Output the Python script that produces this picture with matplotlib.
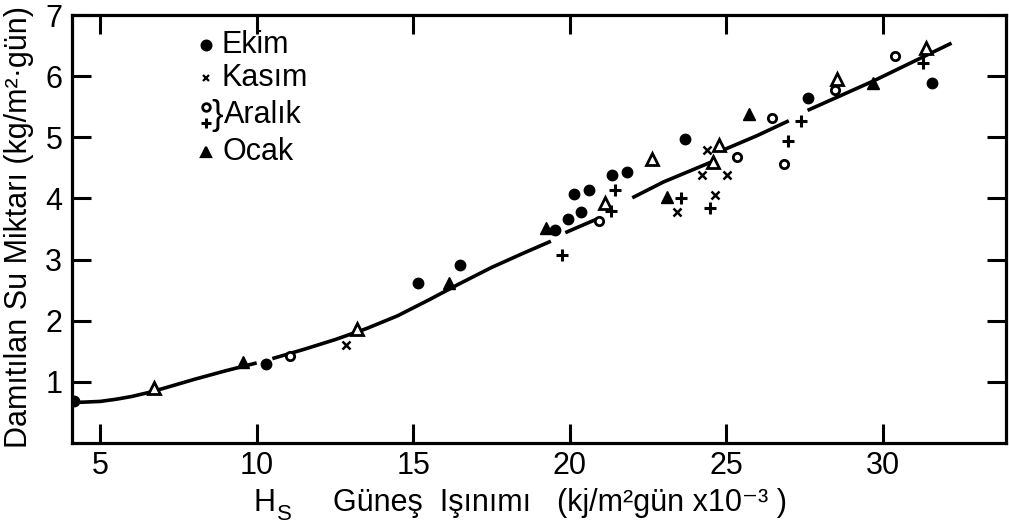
import numpy as np
import matplotlib.pyplot as plt

plt.rcParams['font.family'] = ['Liberation Sans', 'DejaVu Sans']

# Ekim (dolu daire)
ekim_x = [4.15, 10.3, 15.16, 16.5, 19.54, 19.95, 20.37, 20.15, 20.62, 21.36, 21.84, 23.7, 27.6, 31.58]
ekim_y = [0.68, 1.30, 2.61, 2.91, 3.49, 3.67, 3.77, 4.08, 4.14, 4.39, 4.44, 4.97, 5.65, 5.88]

# Kasim (x)
kasim_x = [12.86, 23.43, 24.39, 24.24, 25.03, 24.65]
kasim_y = [1.61, 3.78, 4.79, 4.38, 4.38, 4.05]

# Aralik (bos daire ve arti)
aralik_o_x = [11.07, 20.94, 25.35, 26.47, 26.85, 28.48, 30.4]
aralik_o_y = [1.43, 3.63, 4.67, 5.31, 4.57, 5.78, 6.33]
aralik_p_x = [19.76, 21.33, 21.45, 23.56, 24.49, 26.98, 27.4, 31.3]
aralik_p_y = [3.08, 3.80, 4.14, 4.00, 3.85, 4.94, 5.27, 6.21]

# Ocak (ucgen, dolu ve bos)
ocak_dolu_x = [9.57, 16.15, 19.25, 23.1, 25.73, 29.7]
ocak_dolu_y = [1.33, 2.61, 3.52, 4.03, 5.38, 5.88]
ocak_bos_x = [6.73, 13.2, 21.14, 22.63, 24.77, 24.58, 28.55, 31.39]
ocak_bos_y = [0.90, 1.86, 3.93, 4.65, 4.87, 4.59, 5.96, 6.46]

# cizilmis egri (nan = kesik yer)
egri_x = [4.1, 5, 5.5, 6, 6.5, 7, 8, 9, 10.0, np.nan,
          10.5, 11.5, 12.5, 13.5, 14.5, 15.5, 16.5, 17.5, 18.5, 19.4, np.nan,
          19.86, 20.9, np.nan,
          22.0, 23.0, 24.5, np.nan,
          24.9, 26.0, 27.0, np.nan,
          27.6, 29.7, 32.2]
egri_y = [0.66, 0.68, 0.715, 0.76, 0.82, 0.89, 1.04, 1.18, 1.31, np.nan,
          1.38, 1.53, 1.69, 1.87, 2.08, 2.34, 2.61, 2.87, 3.10, 3.30, np.nan,
          3.44, 3.67, np.nan,
          4.01, 4.27, 4.59, np.nan,
          4.79, 5.03, 5.27, np.nan,
          5.44, 5.92, 6.54]

xticks = [5, 10, 15, 20, 25, 30]
yticks = [1, 2, 3, 4, 5, 6, 7]

W, H = 1009, 526
fig = plt.figure(figsize=(W / 100, H / 100), dpi=100)
ax = fig.add_axes([72 / W, 1 - 443 / H, (1006 - 72) / W, (443 - 15) / H])

ax.plot(egri_x, egri_y, color='black', lw=2.6, solid_capstyle='butt',
        solid_joinstyle='round')

ax.plot(ekim_x, ekim_y, 'o', color='black', ms=7.5, ls='none')
ax.plot(kasim_x, kasim_y, 'x', color='black', ms=6, mew=1.8, ls='none')
ax.plot(aralik_o_x, aralik_o_y, 'o', mfc='white', mec='black', ms=6, mew=2, ls='none')
ax.plot(aralik_p_x, aralik_p_y, '+', color='black', ms=8, mew=2.2, ls='none')
ax.plot(ocak_dolu_x, ocak_dolu_y, '^', color='black', ms=8, ls='none')
ax.plot(ocak_bos_x, ocak_bos_y, '^', mfc='white', mec='black', ms=8, mew=2, ls='none')

ax.set_xlim(4.1, 33.94)
ax.set_ylim(0, 7)
ax.set_xticks(xticks)
ax.set_yticks(yticks)
ax.tick_params(direction='in', length=14, width=2.2, labelsize=22, pad=6,
               top=True, right=True)
ax.tick_params(axis='y', pad=7)
for s in ax.spines.values():
    s.set_linewidth(2.3)

# legend drawn by hand, as in the original
lx = 206
leg = [(45, 'o', 'Ekim'), (78, 'x', 'Kasım'), (152, '^', 'Ocak')]
for yy, m, t in leg:
    ax.plot([lx / W], [1 - yy / H], marker=m, color='black', ms=7 if m != 'x' else 5,
            mew=1.6, transform=fig.transFigure, clip_on=False)
    fig.text(222 / W, 1 - yy / H, t, fontsize=22, va='center', ha='left')
ax.plot([lx / W], [1 - 107 / H], marker='o', mfc='white', mec='black', ms=5.5, mew=2,
        transform=fig.transFigure, clip_on=False)
ax.plot([lx / W], [1 - 123 / H], marker='+', color='black', ms=7, mew=2.2,
        transform=fig.transFigure, clip_on=False)
fig.text(211 / W, 1 - 115 / H, '}', fontsize=25, va='center', ha='left')
fig.text(224 / W, 1 - 115 / H, 'Aralık', fontsize=22, va='center', ha='left')

# axis labels
fig.text(19 / W, 1 - 227 / H, 'Damıtılan Su Miktarı (kg/m²·gün)', rotation=90,
         fontsize=22, va='center', ha='center')
fig.text(253 / W, 1 - 511 / H, 'H', fontsize=22, va='baseline', ha='left')
fig.text(277 / W, 1 - 520 / H, 'S', fontsize=16, va='baseline', ha='left')
fig.text(333 / W, 1 - 511 / H, 'Güneş  Işınımı', fontsize=22, va='baseline', ha='left')
fig.text(557 / W, 1 - 511 / H, '(kj/m²gün x10⁻³ )', fontsize=22, va='baseline', ha='left')

fig.savefig('out.png', dpi=100)
